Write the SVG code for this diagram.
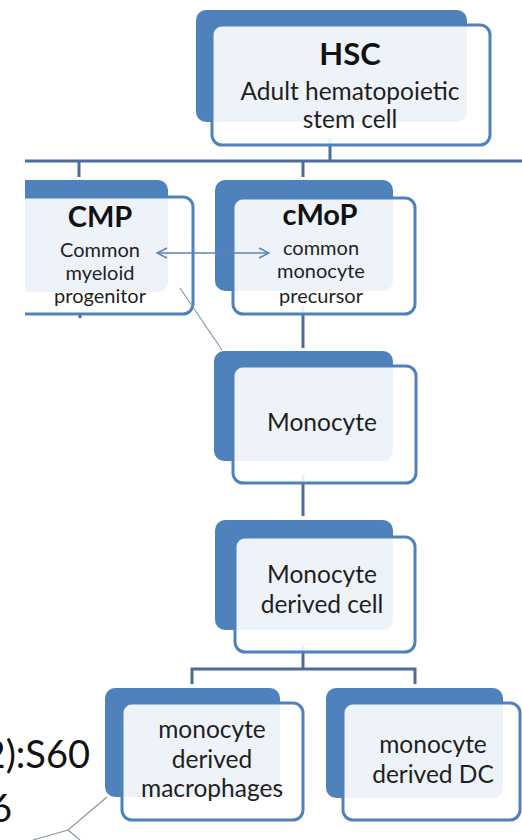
<svg xmlns="http://www.w3.org/2000/svg" width="522" height="840" viewBox="0 0 522 840">
<defs>
<style>
.back{fill:#4f81bd}
.front{fill:#ffffff;fill-opacity:0.9;stroke:#4f81bd;stroke-width:3}
.conn{stroke:#4a6d9b;stroke-width:3;fill:none}
.thin{stroke:#5b84b8;stroke-width:1.5;fill:none}
.gray{stroke:#8797ab;stroke-width:1.2;fill:none}
text{font-family:Lato,"Open Sans","Liberation Sans",sans-serif;fill:#1f1f1f;text-anchor:middle}
.t{font-weight:bold;font-size:29px;fill:#111}
.b{font-size:24.5px}
.s{font-size:20px}
.cite{font-size:38px;fill:#111;text-anchor:end}
</style>
<clipPath id="leftcut"><rect x="25" y="0" width="497" height="840"/></clipPath>
<marker id="chev" viewBox="0 0 12 12" refX="11" refY="6" markerWidth="12" markerHeight="12" markerUnits="userSpaceOnUse" orient="auto-start-reverse">
<path d="M1,1 L11,6 L1,11" fill="none" stroke="#5b84b8" stroke-width="1.5"/>
</marker>
</defs>
<rect width="522" height="840" fill="#ffffff"/>
<g id="citation">
<text class="cite" x="90" y="768">2):S60</text>
<text class="cite" x="12" y="822">6</text>
</g>
<g id="connectors">
<line class="conn" x1="330" y1="138" x2="330" y2="161"/>
<line class="conn" x1="25" y1="161" x2="522" y2="161"/>
<line class="conn" x1="79" y1="161" x2="79" y2="177"/>
<line class="conn" x1="303" y1="161" x2="303" y2="177"/>
<line class="conn" x1="80" y1="312" x2="80" y2="318"/>
<line class="conn" x1="303" y1="305" x2="303" y2="348"/>
<line class="conn" x1="303" y1="475" x2="303" y2="516"/>
<line class="conn" x1="303" y1="645" x2="303" y2="669"/>
<polyline class="conn" points="192,684 192,669 415,669 415,684"/>
<polyline class="gray" points="107,797 68,830 33,840"/>
<line class="gray" x1="68" y1="830" x2="80" y2="840"/>
</g>
<g id="HSC">
<rect class="back" x="196" y="10" width="271" height="112" rx="10"/>
<rect class="front" x="212" y="25" width="278" height="120" rx="10"/>
<text class="t" x="350" y="65" style="font-size:31px">HSC</text>
<text class="b" x="350" y="100">Adult hematopoietic</text>
<text class="b" x="350" y="128">stem cell</text>
</g>
<g id="CMP">
<g clip-path="url(#leftcut)">
<rect class="back" x="5" y="180" width="163" height="112" rx="10"/>
<rect class="front" x="5" y="197" width="188" height="117" rx="10"/>
</g>
<text class="t" x="100" y="227">CMP</text>
<text class="s" x="100" y="257">Common</text>
<text class="s" x="100" y="280">myeloid</text>
<text class="s" x="100" y="303">progenitor</text>
</g>
<g id="cMoP">
<rect class="back" x="215" y="180" width="178" height="111" rx="10"/>
<rect class="front" x="233" y="198" width="182" height="116" rx="10"/>
<text class="t" x="320" y="225">cMoP</text>
<text class="s" x="321" y="255">common</text>
<text class="s" x="321" y="278">monocyte</text>
<text class="s" x="321" y="303">precursor</text>
</g>
<g id="Monocyte">
<rect class="back" x="214" y="351" width="179" height="110" rx="10"/>
<rect class="front" x="233" y="366" width="183" height="117" rx="10"/>
<text class="b" x="322" y="431">Monocyte</text>
</g>
<g id="MonocyteDerivedCell">
<rect class="back" x="215" y="520" width="178" height="110" rx="10"/>
<rect class="front" x="235" y="537" width="180" height="115" rx="10"/>
<text class="b" x="322" y="583">Monocyte</text>
<text class="b" x="322" y="613">derived cell</text>
</g>
<g id="Macrophages">
<rect class="back" x="105" y="688" width="175" height="109" rx="10"/>
<rect class="front" x="122" y="703" width="181" height="117" rx="10"/>
<text class="b" x="212" y="738">monocyte</text>
<text class="b" x="212" y="768">derived</text>
<text class="b" x="212" y="797">macrophages</text>
</g>
<g id="DC">
<rect class="back" x="326" y="688" width="177" height="110" rx="10"/>
<rect class="front" x="343" y="703" width="177" height="117" rx="10"/>
<text class="b" x="433" y="753">monocyte</text>
<text class="b" x="433" y="783">derived DC</text>
</g>
<g id="links">
<line class="thin" x1="157" y1="253" x2="269" y2="253" marker-start="url(#chev)" marker-end="url(#chev)"/>
<line class="gray" x1="180" y1="288" x2="222" y2="350"/>
</g>
</svg>
